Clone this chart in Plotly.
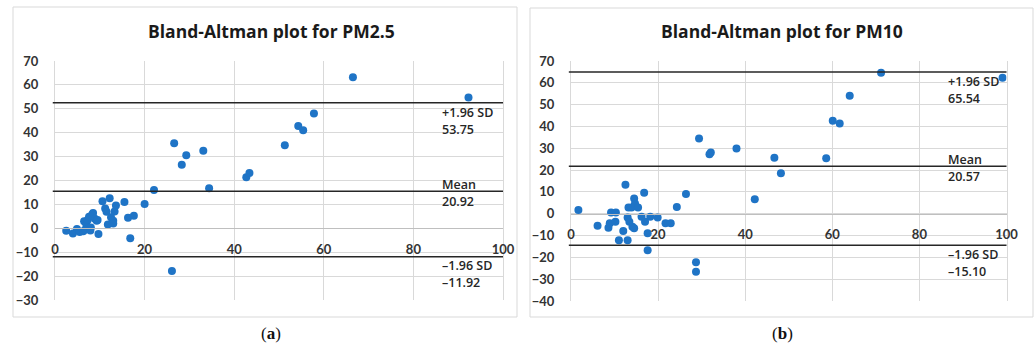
import plotly.graph_objects as go

W, H = 1035, 345

# ---------------- data ----------------
pm25_mean = [2.5, 4.0, 4.9, 5.5, 6.3, 6.5, 7.0, 6.8, 7.3, 7.6, 8.0, 8.3, 8.5, 8.9, 9.3,
             9.5, 7.9, 9.7, 10.6, 11.2, 11.5, 11.8, 12.2, 12.5, 12.8, 13.0, 13.3, 13.6,
             13.0, 15.5, 16.3, 17.6, 16.8, 20.0, 22.1, 26.1, 26.6, 28.3, 29.3, 33.1,
             34.4, 42.7, 43.4, 51.3, 54.3, 55.4, 57.8, 66.5, 92.3]
pm25_diff = [-1.0, -2.2, -0.3, -1.5, -1.2, 2.9, 1.5, -0.5, 3.5, 4.8, 0.3, 5.8, 6.4, 4.0, 3.2,
             3.5, -0.9, -2.4, 11.3, 8.3, 6.9, 1.6, 12.6, 4.6, 2.4, 3.2, 7.0, 9.5,
             2.0, 11.0, 4.4, 5.3, -4.2, 10.2, 16.0, -17.9, 35.6, 26.6, 30.6, 32.4,
             16.8, 21.4, 23.1, 34.7, 42.8, 41.0, 48.0, 63.2, 54.7]

pm10_mean = [1.7, 6.1, 8.6, 8.9, 9.2, 10.3, 10.2, 11.0, 12.0, 12.5, 13.0, 13.0, 13.4, 13.2,
             13.9, 14.1, 14.5, 14.5, 14.7, 15.4, 16.2, 16.8, 17.0, 17.6, 17.6, 18.2, 19.9,
             21.7, 22.9, 24.3, 26.4, 29.4, 31.8, 32.1, 38.0, 42.2, 46.7, 48.2, 28.7, 28.7,
             58.6, 60.1, 61.7, 64.0, 71.2, 99.1]
pm10_diff = [1.7, -5.5, -6.4, -4.4, 0.6, 0.6, -3.7, -12.1, -7.9, 13.3, -12.1, -1.7, -3.7, 2.8,
             2.8, -6.0, -6.7, 7.0, 4.7, 2.8, -1.4, 9.6, -3.7, -9.0, -16.7, -1.4, -1.7,
             -4.4, -4.4, 3.1, 9.0, 34.5, 27.3, 28.1, 29.9, 6.6, 25.7, 18.6, -22.2, -26.6,
             25.4, 42.6, 41.3, 54.1, 64.6, 62.3]

# reference lines as drawn (upper, mean, lower) and their printed labels
pm25_lines = [52.5, 15.5, -11.9]
pm10_lines = [65.0, 21.8, -14.4]
pm25_line_names = ["+1.96 SD", "Mean", "–1.96 SD"]
pm25_line_values = ["53.75", "20.92", "–11.92"]
pm10_line_names = ["+1.96 SD", "Mean", "–1.96 SD"]
pm10_line_values = ["65.54", "20.57", "–15.10"]

titles = ["Bland-Altman plot for PM2.5", "Bland-Altman plot for PM10"]
captions = ["(<b>a</b>)", "(<b>b</b>)"]

x_ticks = [0, 20, 40, 60, 80, 100]
pm25_y_ticks = [-30, -20, -10, 0, 10, 20, 30, 40, 50, 60, 70]
pm10_y_ticks = [-40, -30, -20, -10, 0, 10, 20, 30, 40, 50, 60, 70]

# ---------------- layout helpers ----------------
def px_x(p):
    return p / W

def px_y(p):
    return 1 - p / H

MARK = "#1f74c6"
GRID = "#d9d9d9"
TXT = "#333333"
FONT = "Lato"

panels = [
    dict(xd=[px_x(55), px_x(503)], yd=[px_y(300), px_y(61)], yr=[-30, 70],
         x=pm25_mean, y=pm25_diff, lines=pm25_lines, names=pm25_line_names,
         vals=pm25_line_values, yt=pm25_y_ticks, box=[13, 7, 517, 317],
         title=titles[0], tx=271, cap=captions[0]),
    dict(xd=[px_x(571), px_x(1006.5)], yd=[px_y(301), px_y(61)], yr=[-40, 70],
         x=pm10_mean, y=pm10_diff, lines=pm10_lines, names=pm10_line_names,
         vals=pm10_line_values, yt=pm10_y_ticks, box=[530, 8, 1033, 317],
         title=titles[1], tx=782, cap=captions[1]),
]

fig = go.Figure()
shapes, annotations = [], []
layout = {}

for i, p in enumerate(panels):
    sfx = "" if i == 0 else str(i + 1)
    xa, ya = "x" + sfx, "y" + sfx
    fig.add_trace(go.Scatter(x=p["x"], y=p["y"], mode="markers",
                             marker=dict(color=MARK, size=8, line=dict(width=0)),
                             xaxis=xa, yaxis=ya, showlegend=False, hoverinfo="x+y"))
    y0, y1 = p["yr"]
    zero_pos = p["yd"][0] + (0 - y0) / (y1 - y0) * (p["yd"][1] - p["yd"][0])
    layout["xaxis" + sfx] = dict(domain=p["xd"], range=[0, 100], tickvals=x_ticks,
                                 anchor="free", position=zero_pos, automargin=False,
                                 showgrid=True, gridcolor=GRID, gridwidth=1,
                                 showline=True, linecolor="#bfbfbf", linewidth=1,
                                 zeroline=False, ticks="", ticklabelstandoff=9,
                                 tickfont=dict(family=FONT, size=13, color=TXT, weight="bold"))
    layout["yaxis" + sfx] = dict(domain=p["yd"], range=p["yr"], tickvals=p["yt"],
                                 anchor=xa, automargin=False,
                                 showgrid=True, gridcolor=GRID, gridwidth=1,
                                 showline=True, linecolor=GRID, mirror=True,
                                 zeroline=False, ticks="", ticklabelstandoff=13,
                                 tickfont=dict(family=FONT, size=13, color=TXT, weight="bold"))
    # outer box
    bx0, by0, bx1, by1 = p["box"]
    shapes.append(dict(type="rect", xref="paper", yref="paper",
                       x0=px_x(bx0), x1=px_x(bx1), y0=px_y(by1), y1=px_y(by0),
                       line=dict(color=GRID, width=1), fillcolor="rgba(0,0,0,0)",
                       layer="below"))
    # reference lines and labels
    shifts = [(-10, -27), (7, -10), (-9, -26)]
    for (lv, nm, vv, (s1, s2)) in zip(p["lines"], p["names"], p["vals"], shifts):
        shapes.append(dict(type="line", xref=xa + " domain", yref=ya,
                           x0=-0.005, x1=1.0, y0=lv, y1=lv,
                           line=dict(color="#262626", width=1.5)))
        for txt, sh in ((nm, s1), (vv, s2)):
            annotations.append(dict(text=txt, xref=xa, yref=ya, x=86, y=lv,
                                    xanchor="left", yanchor="middle", yshift=sh,
                                    showarrow=False,
                                    font=dict(family="Open Sans", size=12.5, color="#262626",
                                              weight=600)))
    # title
    annotations.append(dict(text="<b>" + p["title"] + "</b>", xref="paper", yref="paper",
                            x=px_x(p["tx"]), y=px_y(31), xanchor="center", yanchor="middle",
                            showarrow=False,
                            font=dict(family="Open Sans", size=17.5, color="#1a1a1a")))
    # caption
    annotations.append(dict(text=p["cap"], xref="paper", yref="paper",
                            x=px_x(p["tx"]), y=px_y(333), xanchor="center", yanchor="middle",
                            showarrow=False,
                            font=dict(family="Liberation Serif", size=17, color="#111111")))

fig.update_layout(**layout)
fig.update_layout(width=W, height=H, margin=dict(l=0, r=0, t=0, b=0, autoexpand=False),
                  paper_bgcolor="white", plot_bgcolor="white",
                  shapes=shapes, annotations=annotations, showlegend=False)

fig.write_html("out.html", config={"displayModeBar": False},
               post_script="document.body.style.margin='0';document.body.style.overflow='hidden';")
